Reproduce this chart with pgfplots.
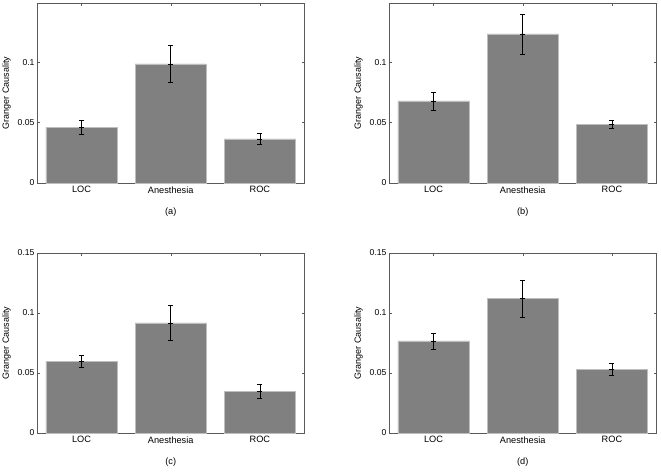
\documentclass[border=0pt]{standalone}
\usepackage{pgfplots}
\pgfplotsset{compat=1.18}
\usepackage{fontspec}
\setmainfont{Liberation Sans}

\definecolor{barfill}{RGB}{128,128,128}
\definecolor{baredge}{RGB}{190,190,190}
\definecolor{axisgray}{RGB}{90,90,90}

\pgfplotsset{
  panel/.style={
    scale only axis,
    width=267.5pt, height=180pt,
    anchor=north west,
    xmin=0.5, xmax=3.5,
    ymin=0,
    xtick={1,2,3},
    xticklabels={LOC,Anesthesia,ROC},
    tick align=inside,
    tick pos=both,
    major tick length=3pt,
    axis line style={axisgray},
    every tick/.style={axisgray},
    /pgf/number format/assume math mode=true,
    xticklabel style={font=\fontsize{9.2}{10}\selectfont},
    yticklabel style={font=\fontsize{8.6}{10}\selectfont, /pgf/number format/fixed, xshift=1pt},
    ylabel={Granger Causality},
    ylabel style={font=\fontsize{9}{10}\selectfont, at={(axis description cs:-0.114,0.5)}, anchor=center},
    xlabel style={font=\fontsize{9.2}{10}\selectfont, at={(axis description cs:0.5,-0.164)}, anchor=center},
  },
  bars/.style={ybar, bar width=0.8, fill=barfill, draw=baredge, line width=0.6pt},
  errs/.style={only marks, mark=-, mark size=2.5pt, black, line width=0.6pt,
    mark options={black, line width=0.6pt},
    error bars/.cd, y dir=both, y explicit,
    error bar style={black, line width=0.6pt},
    error mark options={rotate=90, mark size=2.5pt, black, line width=0.6pt}},
}

\begin{document}
\begin{tikzpicture}
\useasboundingbox (0,-471pt) rectangle (661pt,0);

% (a)
\begin{axis}[panel, at={(37pt,-3pt)}, ymax=0.149, ytick={0,0.05,0.1}, xlabel={(a)}]
\addplot[bars] coordinates {(1,0.0461) (2,0.0986) (3,0.0365)};
\addplot[errs] coordinates {(1,0.0461) +- (0,0.0061) (2,0.0986) +- (0,0.0153) (3,0.0365) +- (0,0.0046)};
\end{axis}

% (b)
\begin{axis}[panel, at={(389pt,-3pt)}, ymax=0.149, ytick={0,0.05,0.1}, xlabel={(b)}]
\addplot[bars] coordinates {(1,0.0679) (2,0.1234) (3,0.0486)};
\addplot[errs] coordinates {(1,0.0679) +- (0,0.0075) (2,0.1234) +- (0,0.0166) (3,0.0486) +- (0,0.0030)};
\end{axis}

% (c)
\begin{axis}[panel, at={(37pt,-253pt)}, ymax=0.15, ytick={0,0.05,0.1,0.15}, xlabel={(c)}]
\addplot[bars] coordinates {(1,0.0597) (2,0.0917) (3,0.0347)};
\addplot[errs] coordinates {(1,0.0597) +- (0,0.0052) (2,0.0917) +- (0,0.0145) (3,0.0347) +- (0,0.0059)};
\end{axis}

% (d)
\begin{axis}[panel, at={(389pt,-253pt)}, ymax=0.15, ytick={0,0.05,0.1,0.15}, xlabel={(d)}]
\addplot[bars] coordinates {(1,0.0767) (2,0.1122) (3,0.0528)};
\addplot[errs] coordinates {(1,0.0767) +- (0,0.0068) (2,0.1122) +- (0,0.0154) (3,0.0528) +- (0,0.0050)};
\end{axis}

\end{tikzpicture}
\end{document}
